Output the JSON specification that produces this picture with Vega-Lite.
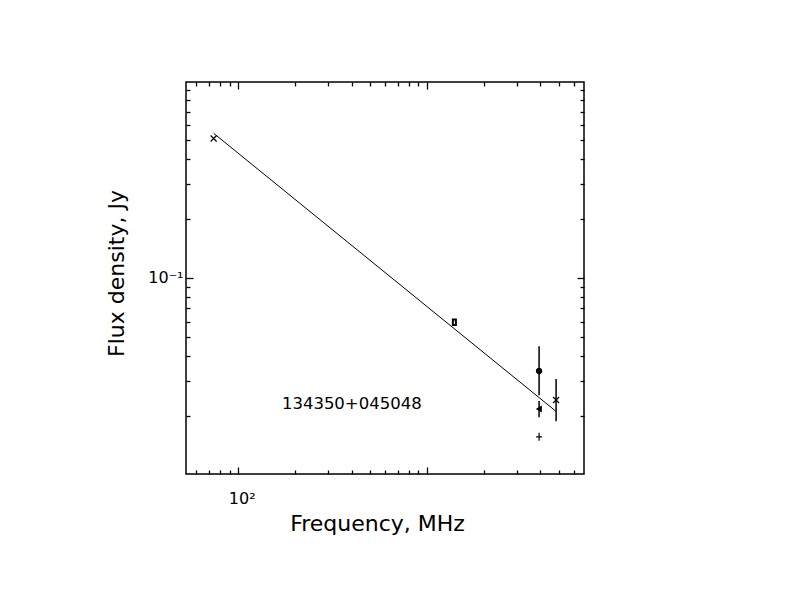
{
  "$schema": "https://vega.github.io/schema/vega-lite/v6.json",
  "width": 398,
  "height": 392,
  "autosize": "none",
  "padding": {"left": 186, "top": 82, "right": 208, "bottom": 138},
  "background": "white",
  "config": {
    "view": {"stroke": "black", "strokeWidth": 1.5},
    "font": "DejaVu Sans",
    "axis": {
      "domain": false,
      "grid": false,
      "ticks": true,
      "tickColor": "black",
      "tickWidth": 1.3,
      "labelColor": "black",
      "labelFont": "DejaVu Sans",
      "labelFontSize": 16,
      "labelFlush": false,
      "labelOverlap": false,
      "labelBound": false,
      "titleFont": "DejaVu Sans",
      "titleFontWeight": "normal",
      "titleColor": "black",
      "titleFontSize": 22
    }
  },
  "datasets": {
    "fit": [
      {"freq": 74, "flux": 0.543},
      {"freq": 4850, "flux": 0.021}
    ],
    "obs": [
      {"freq": 74, "flux": 0.511, "sym": "x"},
      {"freq": 1400, "flux": 0.0595, "sym": "box"},
      {"freq": 3940, "flux": 0.0337, "lo": 0.0254, "hi": 0.045, "sym": "circle"},
      {"freq": 3940, "flux": 0.0216, "lo": 0.0196, "hi": 0.0237, "sym": "tri"},
      {"freq": 3940, "flux": 0.0156, "sym": "plus"},
      {"freq": 4850, "flux": 0.024, "lo": 0.0187, "hi": 0.0307, "sym": "x"}
    ],
    "label": [
      {"freq": 400, "flux": 0.023, "name": "134350+045048"}
    ]
  },
  "layer": [
    {
      "data": {"name": "fit"},
      "mark": {"type": "line", "color": "black", "strokeWidth": 1},
      "encoding": {
        "x": {
          "field": "freq", "type": "quantitative",
          "scale": {"type": "log", "domain": [52.8, 6820], "nice": false},
          "axis": {
            "orient": "bottom",
            "title": "Frequency, MHz",
            "titleX": 191, "titleY": 56,
            "titleAlign": "center", "titleBaseline": "alphabetic",
            "values": [60, 70, 80, 90, 100, 200, 300, 400, 500, 600, 700, 800, 900, 1000, 2000, 3000, 4000, 5000, 6000],
            "tickSize": {"condition": {"test": "datum.value == 100 || datum.value == 1000", "value": -7}, "value": -4},
            "labelExpr": "datum.value == 100 ? '10²' : ''",
            "labelAlign": "left",
            "labelOffset": -10,
            "labelBaseline": "alphabetic",
            "labelPadding": 36
          }
        },
        "y": {
          "field": "flux", "type": "quantitative",
          "scale": {"type": "log", "domain": [0.0101, 0.989], "nice": false},
          "axis": {
            "orient": "left",
            "title": "Flux density, Jy",
            "titleX": -63, "titleY": 191,
            "titleAngle": -90,
            "titleAlign": "center", "titleBaseline": "alphabetic",
            "values": [0.02, 0.03, 0.04, 0.05, 0.06, 0.07, 0.08, 0.09, 0.1, 0.2, 0.3, 0.4, 0.5, 0.6, 0.7, 0.8, 0.9],
            "tickSize": {"condition": {"test": "datum.value == 0.1", "value": -7}, "value": -4},
            "labelExpr": "datum.value == 0.1 ? '10⁻¹' : ''",
            "labelAlign": "right",
            "labelBaseline": "middle",
            "labelPadding": 10
          }
        }
      }
    },
    {
      "data": {"name": "obs"},
      "mark": {"type": "rule", "color": "black", "strokeWidth": 1.5},
      "transform": [{"filter": "isValid(datum.lo)"}],
      "encoding": {
        "x": {
          "field": "freq", "type": "quantitative",
          "axis": {
            "orient": "top", "title": null, "labels": false,
            "values": [60, 70, 80, 90, 100, 200, 300, 400, 500, 600, 700, 800, 900, 1000, 2000, 3000, 4000, 5000, 6000],
            "tickSize": {"condition": {"test": "datum.value == 100 || datum.value == 1000", "value": -7}, "value": -4}
          }
        },
        "y": {
          "field": "lo", "type": "quantitative",
          "axis": {
            "orient": "right", "title": null, "labels": false,
            "values": [0.02, 0.03, 0.04, 0.05, 0.06, 0.07, 0.08, 0.09, 0.1, 0.2, 0.3, 0.4, 0.5, 0.6, 0.7, 0.8, 0.9],
            "tickSize": {"condition": {"test": "datum.value == 0.1", "value": -7}, "value": -4}
          }
        },
        "y2": {"field": "hi"}
      }
    },
    {
      "data": {"name": "obs"},
      "mark": {"type": "point", "filled": false, "stroke": "black", "opacity": 1},
      "encoding": {
        "x": {"field": "freq", "type": "quantitative", "axis": null},
        "y": {"field": "flux", "type": "quantitative", "axis": null},
        "shape": {
          "field": "sym", "type": "nominal", "legend": null,
          "scale": {
            "domain": ["x", "plus", "box", "circle", "tri"],
            "range": ["M-1,-1L1,1M-1,1L1,-1", "M0,-1.4L0,1.4M-1,0L1,0", "M-0.55,-1L0.55,-1L0.55,1L-0.55,1Z", "circle", "triangle-left"]
          }
        },
        "size": {
          "field": "sym", "type": "nominal", "legend": null,
          "scale": {"domain": ["x", "plus", "box", "circle", "tri"], "range": [36, 25, 60, 18, 24]}
        },
        "fill": {
          "condition": {"test": "datum.sym == 'circle' || datum.sym == 'tri'", "value": "black"},
          "value": "transparent"
        },
        "strokeWidth": {
          "condition": {"test": "datum.sym == 'box'", "value": 2},
          "value": 1.2
        }
      }
    },
    {
      "data": {"name": "label"},
      "mark": {"type": "text", "font": "DejaVu Sans", "fontSize": 16.5, "color": "black", "align": "center", "baseline": "middle"},
      "encoding": {
        "x": {"field": "freq", "type": "quantitative", "axis": null},
        "y": {"field": "flux", "type": "quantitative", "axis": null},
        "text": {"field": "name"}
      }
    }
  ],
  "resolve": {"axis": {"x": "independent", "y": "independent"}}
}
